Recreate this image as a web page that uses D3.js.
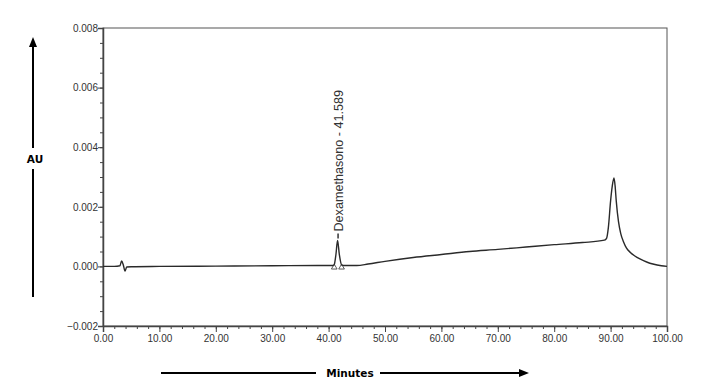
<!DOCTYPE html>
<html><head><meta charset="utf-8">
<script src="https://cdn.jsdelivr.net/npm/d3@7"></script>
<style>body{margin:0;background:#fff}svg{display:block}</style>
</head><body>
<script>
// Data
const times = [0, 2, 3.0, 3.3, 3.6, 3.9, 4.2, 5, 10, 20, 30, 38, 40.8, 41.0, 41.3, 41.59, 41.9, 42.3, 42.6, 45, 47, 50, 55, 60, 65, 70, 75, 80, 85, 88.9, 89.3, 89.6, 90.0, 90.3, 90.6, 90.8, 91.0, 91.4, 91.8, 92.3, 92.8, 93.5, 94.3, 95.2, 96.5, 97.5, 99, 100];
const absorb = [0.0000, 0.0000, 0.00002, 0.00018, 0.00005, -0.00016, -0.00002, -0.00001, 0.0000, 0.00001, 0.00002, 0.00003, 0.00003, 0.00006, 0.0004, 0.00087, 0.0004, 0.00005, 0.00003, 0.00003, 0.00008, 0.00017, 0.0003, 0.0004, 0.0005, 0.00057, 0.00065, 0.00073, 0.0008, 0.00088, 0.00095, 0.0013, 0.0022, 0.0027, 0.00297, 0.0027, 0.0022, 0.0015, 0.0011, 0.00082, 0.00062, 0.00047, 0.00035, 0.00025, 0.00014, 0.00008, 0.00002, 0.0000];
const peakMarks = [41.0, 42.3];
const peakLabel = "Dexamethasono - 41.589";
const peakTime = 41.59;
const xTicks = [0, 10, 20, 30, 40, 50, 60, 70, 80, 90, 100];
const yTicks = [-0.002, 0.000, 0.002, 0.004, 0.006, 0.008];
const xLabel = "Minutes";
const yLabel = "AU";

const W = 704, H = 392;
const svg = d3.select("body").append("svg").attr("width", W).attr("height", H);
const L = 103, R = 667, T = 28, B = 326;
const x = d3.scaleLinear().domain([0, 100]).range([L, R]);
const y = d3.scaleLinear().domain([-0.002, 0.008]).range([B, T]);
const axisCol = "#444";
const font = "'Liberation Sans', Arial, sans-serif";
const boldFont = "'DejaVu Sans', Verdana, sans-serif";

// frame
svg.append("rect").attr("x", L).attr("y", T).attr("width", R - L).attr("height", B - T)
  .attr("fill", "none").attr("stroke", "#555").attr("stroke-width", 1);

// minor ticks
const gx = svg.append("g").attr("transform", `translate(0,${B})`);
gx.call(d3.axisBottom(x).tickValues(d3.range(0, 101, 2)).tickSize(3).tickFormat(""))
  .call(g => g.select(".domain").remove());
gx.selectAll("line").attr("stroke", axisCol);
const gx2 = svg.append("g").attr("transform", `translate(0,${B})`);
gx2.call(d3.axisBottom(x).tickValues(xTicks).tickSize(6).tickPadding(3).tickFormat(d3.format(".2f")))
  .call(g => g.select(".domain").attr("stroke", axisCol).attr("stroke-width", 1.5));
gx2.selectAll("line").attr("stroke", axisCol);
gx2.selectAll("text").attr("font-family", font).attr("font-size", 10).attr("fill", "#333");

const gy = svg.append("g").attr("transform", `translate(${L},0)`);
gy.call(d3.axisLeft(y).tickValues(d3.range(-0.002, 0.00801, 0.0005)).tickSize(3).tickFormat(""))
  .call(g => g.select(".domain").remove());
gy.selectAll("line").attr("stroke", axisCol);
const gy2 = svg.append("g").attr("transform", `translate(${L},0)`);
gy2.call(d3.axisLeft(y).tickValues(yTicks).tickSize(5).tickPadding(0).tickFormat(d3.format(".3f")))
  .call(g => g.select(".domain").attr("stroke", axisCol).attr("stroke-width", 1.5));
gy2.selectAll("line").attr("stroke", axisCol);
gy2.selectAll("text").attr("font-family", font).attr("font-size", 10).attr("fill", "#333");

// trace
const data = times.map((t, i) => ({t, v: absorb[i]}));
svg.append("path").datum(data)
  .attr("d", d3.line().x(d => x(d.t)).y(d => y(d.v)).curve(d3.curveMonotoneX))
  .attr("fill", "none").attr("stroke", "#2a2a2a").attr("stroke-width", 1.4);

// peak base markers
svg.selectAll(".pm").data(peakMarks).join("path")
  .attr("d", d3.symbol(d3.symbolTriangle, 14))
  .attr("transform", d => `translate(${x(d)},${y(0) + 1})`)
  .attr("fill", "none").attr("stroke", "#333").attr("stroke-width", 0.8);

// peak label
const lx = x(peakTime) + 0.5;
svg.append("line").attr("x1", lx).attr("x2", lx).attr("y1", y(0.00087) - 2).attr("y2", y(0.00087) - 7)
  .attr("stroke", "#333").attr("stroke-width", 1.5);
svg.append("text").attr("transform", `translate(${lx + 4.5},${y(0.00087) - 9}) rotate(-90)`)
  .attr("font-family", font).attr("font-size", 12.6).attr("fill", "#333").text(peakLabel);

// Y axis arrow label
const ax = 33;
svg.append("line").attr("x1", ax).attr("x2", ax).attr("y1", 297).attr("y2", 169).attr("stroke", "#000").attr("stroke-width", 2);
svg.append("line").attr("x1", ax).attr("x2", ax).attr("y1", 148).attr("y2", 46).attr("stroke", "#000").attr("stroke-width", 2);
svg.append("path").attr("d", `M${ax - 4},${47} L${ax + 4},${47} L${ax},${37} Z`).attr("fill", "#000");
svg.append("text").attr("x", ax + 2).attr("y", 163).attr("text-anchor", "middle")
  .attr("font-family", boldFont).attr("font-weight", "bold").attr("font-size", 10.5).text(yLabel);

// X axis arrow label
const ay = 373;
svg.append("line").attr("x1", 161).attr("x2", 316).attr("y1", ay).attr("y2", ay).attr("stroke", "#000").attr("stroke-width", 2);
svg.append("line").attr("x1", 380).attr("x2", 520).attr("y1", ay).attr("y2", ay).attr("stroke", "#000").attr("stroke-width", 2);
svg.append("path").attr("d", `M519,${ay - 4} L519,${ay + 4} L529,${ay} Z`).attr("fill", "#000");
svg.append("text").attr("x", 350).attr("y", ay + 4).attr("text-anchor", "middle")
  .attr("font-family", boldFont).attr("font-weight", "bold").attr("font-size", 10.5).text(xLabel);
</script>
</body></html>
